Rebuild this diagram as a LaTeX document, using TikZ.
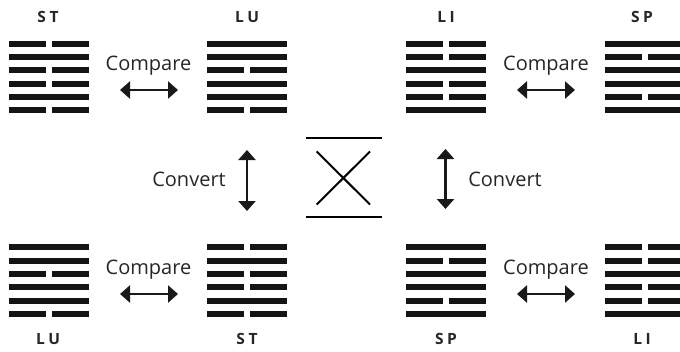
\documentclass[tikz,border=0pt]{standalone}
\usepackage{fontspec}
\setmainfont{Open Sans}
\usetikzlibrary{arrows.meta}
\tikzset{
  bar/.style={fill=black!92},
  lab/.style={font=\fontsize{15.5}{18}\selectfont\bfseries, text=black!85, anchor=base, inner sep=0pt},
  word/.style={font=\fontsize{20}{24}\selectfont, text=black!85, anchor=base, inner sep=0pt},
  dbl/.style={line width=2.6pt, black!90, {Triangle[length=10pt,width=17pt]}-{Triangle[length=10pt,width=17pt]}},
  sym/.style={line width=2pt, black}
}
\newcommand\hexag[3]{%
  \foreach \b [count=\i from 0] in {#3} {
    \pgfmathsetmacro\yy{#2+\i*13.33}
    \ifnum\b=1
      \fill[bar] (#1,\yy) rectangle ++(80,6.2);
    \else
      \fill[bar] (#1,\yy) rectangle ++(36.7,6.2);
      \fill[bar] (#1+43.3,\yy) rectangle ++(36.7,6.2);
    \fi
  }}
\begin{document}
\begin{tikzpicture}[x=1pt,y=-1pt]
\useasboundingbox (0,0) rectangle (680,351);
\clip (0,0) rectangle (680,351);
% hexagrams
\hexag{9}{40.6}{0,1,0,0,1,0}
\hexag{207}{40.6}{1,1,0,1,1,0}
\hexag{406}{40.6}{0,0,1,0,0,1}
\hexag{605}{40.6}{1,0,1,1,0,1}
\hexag{9}{244.2}{1,1,0,1,1,0}
\hexag{207}{244.2}{0,1,0,0,1,0}
\hexag{406}{244.2}{1,0,1,1,0,1}
\hexag{605}{244.2}{0,0,1,0,0,1}
% labels
\node[lab] (t1) at (48,22.5) {S\hspace{3.5pt}T};
\node[lab] (t2) at (247,22.5) {L\hspace{3.5pt}U};
\node[lab] (t3) at (446,22.5) {L\hspace{3.5pt}I};
\node[lab] (t4) at (642,22.5) {S\hspace{3.5pt}P};
\node[lab] (b1) at (48,344.5) {L\hspace{3.5pt}U};
\node[lab] (b2) at (247,344.5) {S\hspace{3.5pt}T};
\node[lab] (b3) at (446,344.5) {S\hspace{3.5pt}P};
\node[lab] (b4) at (642,344.5) {L\hspace{3.5pt}I};
% compare words
\node[word] (c1) at (148.5,70.5) {Compare};
\node[word] (c2) at (546,70.5) {Compare};
\node[word] (c3) at (148.5,274) {Compare};
\node[word] (c4) at (546,274) {Compare};
% compare arrows
\coordinate (a1l) at (120,90); \coordinate (a1r) at (178,90);
\coordinate (a2l) at (517,90); \coordinate (a2r) at (575,90);
\coordinate (a3l) at (120,294); \coordinate (a3r) at (178,294);
\coordinate (a4l) at (517,294); \coordinate (a4r) at (575,294);
\draw[dbl] (a1l) -- (a1r);
\draw[dbl] (a2l) -- (a2r);
\draw[dbl] (a3l) -- (a3r);
\draw[dbl] (a4l) -- (a4r);
% convert
\node[word] (v1) at (189,186.5) {Convert};
\node[word] (v2) at (505,186) {Convert};
\coordinate (u1) at (247,150); \coordinate (d1) at (247,211);
\coordinate (u2) at (445.5,149); \coordinate (d2) at (445.5,209);
\draw[dbl] (u1) -- (d1);
\draw[dbl] (u2) -- (d2);
% centre symbol
\coordinate (s1) at (306,138.3); \coordinate (s2) at (381.7,138.3);
\coordinate (s3) at (306,217.3); \coordinate (s4) at (381.7,217.3);
\coordinate (x1) at (316.7,151.5); \coordinate (x2) at (370,204.5);
\coordinate (x3) at (370,151.5); \coordinate (x4) at (316.7,204.5);
\draw[sym] (s1) -- (s2);
\draw[sym] (s3) -- (s4);
\draw[sym] (x1) -- (x2);
\draw[sym] (x3) -- (x4);
\end{tikzpicture}
\end{document}
